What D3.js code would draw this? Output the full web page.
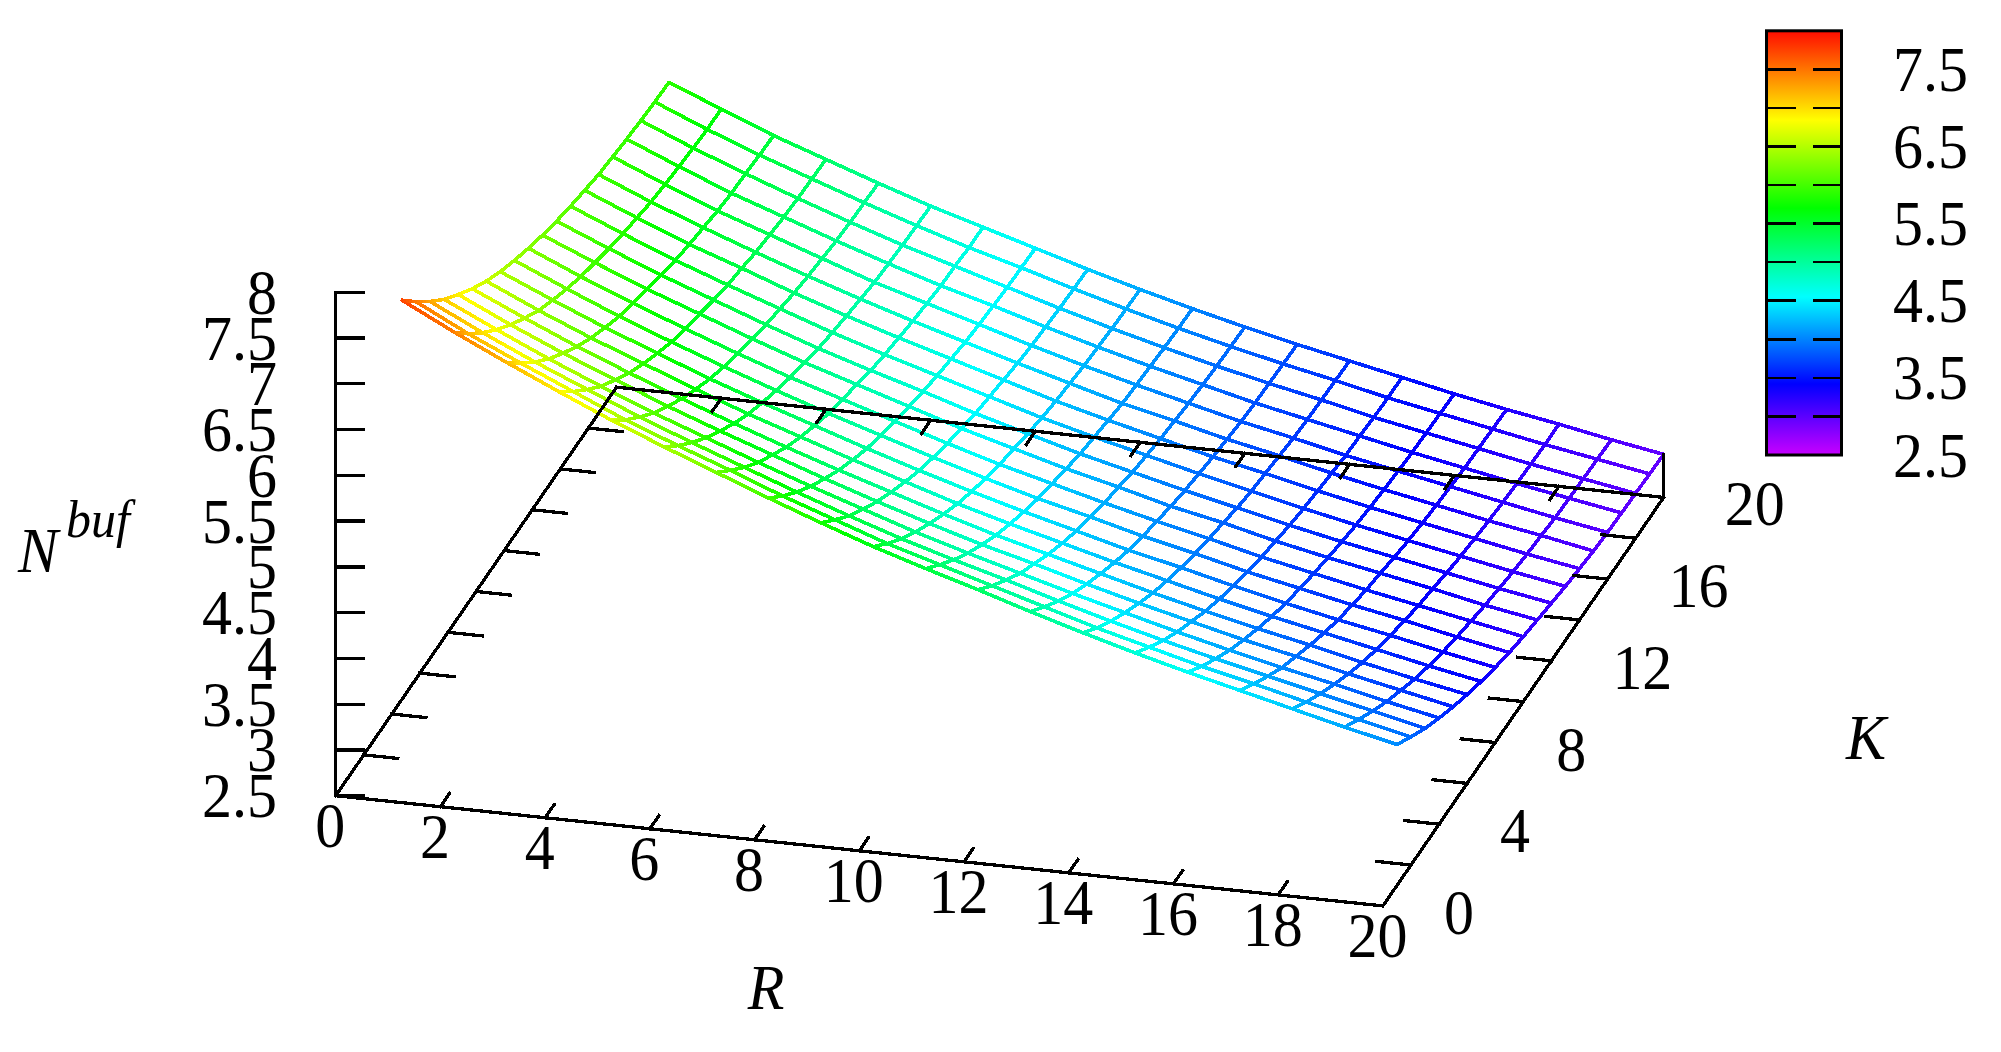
<!DOCTYPE html>
<html>
<head>
<meta charset="utf-8">
<title>N buf surface</title>
<script src="https://cdn.jsdelivr.net/npm/d3@7"></script>
<style>
html, body { margin: 0; padding: 0; background: #fff; overflow: hidden; }
svg { display: block; }
text { font-family: "Liberation Serif", serif; fill: #000; }
</style>
</head>
<body>
<svg id="chart" width="2001" height="1052"></svg>
<script>
// Grid of the surface
const rValues = [1, 2, 3, 4, 5, 6, 7, 8, 9, 10, 11, 12, 13, 14, 15, 16, 17, 18, 19, 20];
const kValues = [1, 2, 3, 4, 5, 6, 7, 8, 9, 10, 11, 12, 13, 14, 15, 16, 17, 18, 19, 20];

// N_buf, one row per R, columns follow kValues
const nBufRows = [
  [7.75, 7.51, 7.29, 7.09, 6.92, 6.76, 6.62, 6.50, 6.40, 6.31, 6.23, 6.16, 6.10, 6.05, 6.00, 5.97, 5.94, 5.92, 5.90, 5.89],
  [7.46, 7.22, 7.01, 6.82, 6.65, 6.50, 6.36, 6.25, 6.15, 6.06, 5.99, 5.92, 5.86, 5.81, 5.76, 5.73, 5.70, 5.68, 5.66, 5.66],
  [7.19, 6.96, 6.75, 6.56, 6.40, 6.25, 6.12, 6.01, 5.91, 5.83, 5.76, 5.69, 5.63, 5.58, 5.54, 5.50, 5.47, 5.46, 5.44, 5.43],
  [6.93, 6.71, 6.51, 6.32, 6.17, 6.02, 5.90, 5.79, 5.69, 5.61, 5.55, 5.48, 5.42, 5.38, 5.33, 5.30, 5.27, 5.25, 5.24, 5.23],
  [6.68, 6.46, 6.27, 6.09, 5.94, 5.80, 5.68, 5.57, 5.48, 5.40, 5.34, 5.27, 5.22, 5.17, 5.13, 5.10, 5.07, 5.05, 5.04, 5.03],
  [6.45, 6.24, 6.05, 5.88, 5.73, 5.59, 5.47, 5.37, 5.28, 5.20, 5.14, 5.07, 5.02, 4.98, 4.94, 4.90, 4.88, 4.86, 4.85, 4.84],
  [6.23, 6.03, 5.84, 5.67, 5.53, 5.39, 5.28, 5.18, 5.09, 5.02, 4.96, 4.89, 4.84, 4.80, 4.76, 4.73, 4.70, 4.69, 4.67, 4.67],
  [6.01, 5.81, 5.63, 5.47, 5.33, 5.20, 5.09, 4.99, 4.91, 4.84, 4.78, 4.72, 4.67, 4.63, 4.59, 4.56, 4.54, 4.52, 4.51, 4.50],
  [5.80, 5.61, 5.43, 5.28, 5.14, 5.02, 4.91, 4.81, 4.73, 4.66, 4.60, 4.54, 4.50, 4.46, 4.42, 4.39, 4.37, 4.35, 4.34, 4.33],
  [5.60, 5.41, 5.24, 5.09, 4.96, 4.84, 4.73, 4.64, 4.56, 4.49, 4.44, 4.38, 4.33, 4.29, 4.26, 4.23, 4.21, 4.19, 4.18, 4.17],
  [5.42, 5.24, 5.07, 4.92, 4.79, 4.67, 4.57, 4.48, 4.40, 4.34, 4.28, 4.22, 4.18, 4.14, 4.10, 4.08, 4.06, 4.04, 4.03, 4.02],
  [5.25, 5.07, 4.91, 4.76, 4.64, 4.52, 4.42, 4.33, 4.26, 4.19, 4.14, 4.08, 4.04, 4.00, 3.97, 3.94, 3.92, 3.90, 3.89, 3.88],
  [5.07, 4.90, 4.74, 4.60, 4.48, 4.37, 4.27, 4.18, 4.11, 4.05, 3.99, 3.94, 3.90, 3.86, 3.83, 3.80, 3.78, 3.77, 3.76, 3.75],
  [4.90, 4.73, 4.58, 4.45, 4.33, 4.22, 4.13, 4.05, 3.98, 3.92, 3.87, 3.81, 3.77, 3.74, 3.71, 3.68, 3.66, 3.65, 3.64, 3.63],
  [4.74, 4.58, 4.43, 4.30, 4.19, 4.08, 3.99, 3.91, 3.84, 3.78, 3.73, 3.68, 3.64, 3.61, 3.58, 3.55, 3.54, 3.52, 3.51, 3.51],
  [4.59, 4.43, 4.29, 4.16, 4.05, 3.95, 3.86, 3.78, 3.72, 3.66, 3.61, 3.56, 3.52, 3.49, 3.46, 3.44, 3.42, 3.41, 3.40, 3.39],
  [4.45, 4.30, 4.16, 4.03, 3.93, 3.83, 3.74, 3.66, 3.60, 3.54, 3.50, 3.45, 3.41, 3.38, 3.35, 3.33, 3.31, 3.30, 3.29, 3.28],
  [4.31, 4.16, 4.03, 3.91, 3.80, 3.70, 3.62, 3.55, 3.49, 3.43, 3.39, 3.34, 3.30, 3.27, 3.24, 3.22, 3.20, 3.19, 3.18, 3.18],
  [4.17, 4.03, 3.90, 3.78, 3.68, 3.58, 3.50, 3.43, 3.37, 3.32, 3.27, 3.23, 3.19, 3.16, 3.14, 3.11, 3.10, 3.09, 3.08, 3.07],
  [4.04, 3.90, 3.77, 3.66, 3.56, 3.47, 3.39, 3.32, 3.26, 3.21, 3.17, 3.13, 3.09, 3.06, 3.03, 3.01, 3.00, 2.99, 2.98, 2.97]
];

// Axis ticks
const rTicks = [0, 2, 4, 6, 8, 10, 12, 14, 16, 18, 20];
const kTicks = [0, 2, 4, 6, 8, 10, 12, 14, 16, 18, 20];
const kTickLabels = [0, 4, 8, 12, 16, 20];
const zTicks = [2.5, 3, 3.5, 4, 4.5, 5, 5.5, 6, 6.5, 7, 7.5, 8];

// Colour map
const colorStops = [2.5, 3.42, 4.55, 5.70, 6.84, 8];
const colorNames = ["#c800ff", "#0000ff", "#00ffff", "#00ff00", "#ffff00", "#ff0c00"];
const legendTicks = [3, 3.5, 4, 4.5, 5, 5.5, 6, 6.5, 7, 7.5];
const legendLabels = [2.5, 3.5, 4.5, 5.5, 6.5, 7.5];

const FONT_SIZE = 60;
const TEXT_STRETCH = 1.06; // the reference picture is a bit taller than wide
const LINE_W = 3.3;
const MESH_W = 3.6;

const svg = d3.select("#chart");

const color = d3.scaleLinear().domain(colorStops).range(colorNames).clamp(true);

// The view is an orthographic one, so each data axis just adds a screen offset
const xFromR = d3.scaleLinear().domain([0, 20]).range([0, 1047.2]);
const yFromR = d3.scaleLinear().domain([0, 20]).range([0, 110.2]);
const xFromK = d3.scaleLinear().domain([0, 20]).range([0, 280.8]);
const yFromK = d3.scaleLinear().domain([0, 20]).range([0, -408.5]);
const yFromZ = d3.scaleLinear().domain([2.5, 8]).range([0, -503.4]);
const ORIGIN = [335.7, 795.7];

function project(r, k, z) {
  return [
    ORIGIN[0] + xFromR(r) + xFromK(k),
    ORIGIN[1] + yFromR(r) + yFromK(k) + yFromZ(z)
  ];
}

function line(g, a, b, w) {
  g.append("line")
    .attr("x1", a[0]).attr("y1", a[1])
    .attr("x2", b[0]).attr("y2", b[1])
    .attr("stroke", "#000")
    .attr("stroke-width", w || LINE_W)
    .attr("stroke-linecap", "square")
    .attr("shape-rendering", "crispEdges");
}

function label(g, x, y, txt, anchor, size, italic) {
  g.append("text")
    .attr("transform", `translate(${x},${y}) scale(1,${TEXT_STRETCH})`)
    .attr("text-anchor", anchor || "middle")
    .attr("font-size", size || FONT_SIZE)
    .attr("font-style", italic ? "italic" : "normal")
    .text(txt);
}

// Surface mesh: every edge is cut in short pieces so the colour follows z
const mesh = svg.append("g")
  .attr("fill", "none")
  .attr("stroke-width", MESH_W)
  .attr("stroke-linecap", "round")
  .attr("shape-rendering", "crispEdges");
const PIECES = 5;

function meshEdge(r0, k0, z0, r1, k1, z1) {
  for (let p = 0; p < PIECES; p++) {
    const t0 = p / PIECES, t1 = (p + 1) / PIECES;
    const a = project(r0 + (r1 - r0) * t0, k0 + (k1 - k0) * t0, z0 + (z1 - z0) * t0);
    const b = project(r0 + (r1 - r0) * t1, k0 + (k1 - k0) * t1, z0 + (z1 - z0) * t1);
    mesh.append("line")
      .attr("x1", a[0]).attr("y1", a[1]).attr("x2", b[0]).attr("y2", b[1])
      .attr("stroke", color(z0 + (z1 - z0) * (t0 + t1) / 2));
  }
}

rValues.forEach((r, i) => {
  kValues.forEach((k, j) => {
    const z = nBufRows[i][j];
    if (i < rValues.length - 1) meshEdge(r, k, z, rValues[i + 1], k, nBufRows[i + 1][j]);
    if (j < kValues.length - 1) meshEdge(r, k, z, r, kValues[j + 1], nBufRows[i][j + 1]);
  });
});

// Axes sit on top of the mesh
const axes = svg.append("g");
const Z0 = zTicks[0];
const TICK_R = 0.65;
const TICK_K = 0.65;

line(axes, project(0, 0, Z0), project(20, 0, Z0));
line(axes, project(0, 20, Z0), project(20, 20, Z0));
line(axes, project(0, 0, Z0), project(0, 20, Z0));
line(axes, project(20, 0, Z0), project(20, 20, Z0));
line(axes, project(0, 0, Z0), project(0, 0, zTicks[zTicks.length - 1]));
line(axes, project(20, 20, Z0), project(20, 20, nBufRows[19][19]));

rTicks.slice(1, -1).forEach(r => {
  line(axes, project(r, 0, Z0), project(r, TICK_K, Z0));
  line(axes, project(r, 20, Z0), project(r, 20 - TICK_K, Z0));
});
kTicks.slice(1, -1).forEach(k => {
  line(axes, project(0, k, Z0), project(TICK_R, k, Z0));
  line(axes, project(20, k, Z0), project(20 - TICK_R, k, Z0));
});
zTicks.forEach(z => {
  const p = project(0, 0, z);
  line(axes, p, [p[0] + 28, p[1]]);
});

const labels = svg.append("g");
rTicks.forEach(r => {
  const p = project(r, 0, Z0);
  label(labels, p[0] - 5.5, p[1] + 51.5, r);
});
kTickLabels.forEach(k => {
  const p = project(20, k, Z0);
  label(labels, p[0] + 61, p[1] + 28, k, "start");
});
zTicks.forEach(z => {
  const p = project(0, 0, z);
  label(labels, 277, p[1] + 21.5, z, "end");
});

label(labels, 766, 1009, "R", "middle", FONT_SIZE, true);
label(labels, 1866, 759, "K", "middle", FONT_SIZE, true);
label(labels, 18, 572, "N", "start", FONT_SIZE, true);
label(labels, 66, 537, "buf", "start", 50, true);

// Colour bar
const barY = d3.scaleLinear().domain([2.5, 8]).range([455, 30.8]);
const BAR_L = 1766.5, BAR_R = 1841.5;

const grad = svg.append("defs").append("linearGradient")
  .attr("id", "barFill")
  .attr("x1", 0).attr("y1", 1).attr("x2", 0).attr("y2", 0);
colorStops.forEach((z, i) => {
  grad.append("stop")
    .attr("offset", (z - 2.5) / (8 - 2.5))
    .attr("stop-color", colorNames[i]);
});

const bar = svg.append("g");
bar.append("rect")
  .attr("x", BAR_L).attr("y", barY(8))
  .attr("width", BAR_R - BAR_L).attr("height", barY(2.5) - barY(8))
  .attr("fill", "url(#barFill)")
  .attr("stroke", "#000").attr("stroke-width", 3);

legendTicks.forEach(z => {
  line(bar, [BAR_L, barY(z)], [BAR_L + 28, barY(z)], 2.6);
  line(bar, [BAR_R - 27, barY(z)], [BAR_R, barY(z)], 2.6);
});
legendLabels.forEach(z => {
  label(bar, 1968, barY(z) + 21.5, z.toFixed(1), "end");
});
</script>
</body>
</html>
